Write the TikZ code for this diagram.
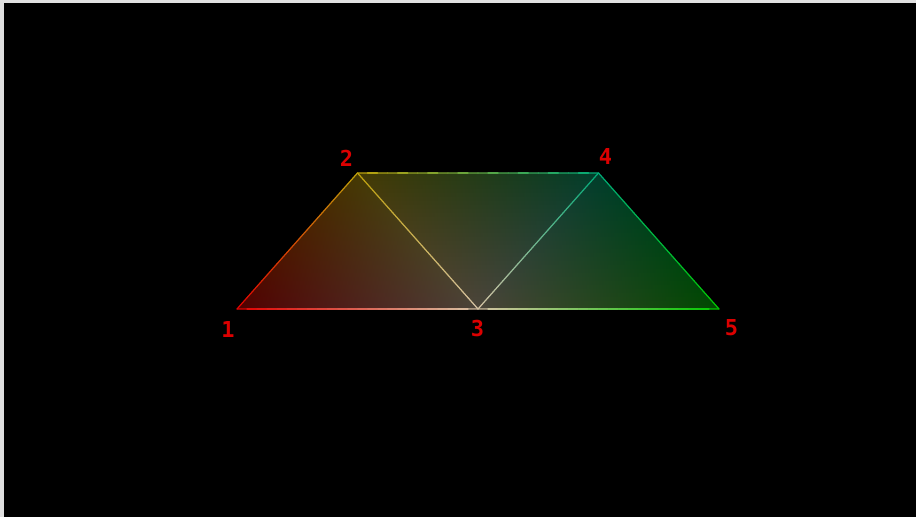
\documentclass[tikz,border=0pt]{standalone}
\usepackage{fontspec}
\newfontfamily\labelfont{DejaVu Sans Mono}
\usetikzlibrary{calc}
\usepackage{xcolor}
\definecolor{frameGray}{RGB}{224,224,224}
\definecolor{vertRed}{RGB}{225,0,0}
\definecolor{vertGold}{RGB}{190,160,10}
\definecolor{vertBeige}{RGB}{215,195,165}
\definecolor{vertTeal}{RGB}{0,170,120}
\definecolor{vertGreen}{RGB}{0,200,0}
\definecolor{labelRed}{RGB}{220,0,0}
\colorlet{faceRed}{vertRed!36!black}
\colorlet{faceGold}{vertGold!36!black}
\colorlet{faceBeige}{vertBeige!35!black}
\colorlet{faceTeal}{vertTeal!36!black}
\colorlet{faceGreen}{vertGreen!36!black}

% face a-b-c (b = apex), shaded in thin strips parallel to a--c
\newcommand\facestrips[6]{%
  \foreach \k in {1,...,34}{
    \pgfmathsetmacro\sa{(\k-1)/34}
    \pgfmathsetmacro\sb{min(\k/34+0.012,1)}
    \pgfmathsetmacro\sm{100*(\k-0.5)/34}
    \shade[left color=#5!\sm!#4, right color=#5!\sm!#6]
      ($(#1)!\sa!(#2)$) -- ($(#1)!\sb!(#2)$) -- ($(#3)!\sb!(#2)$) -- ($(#3)!\sa!(#2)$) -- cycle;
  }}

% edge with colour running from #3 to #4
\newcommand\gradedge[4]{%
  \foreach \k in {1,...,24}{
    \pgfmathsetmacro\ta{(\k-1)/24}
    \pgfmathsetmacro\tb{\k/24}
    \pgfmathsetmacro\p{100*(\k-0.5)/24}
    \draw[edge, #4!\p!#3] ($(#1)!\ta!(#2)$) -- ($(#1)!\tb!(#2)$);
  }}

\begin{document}
\begin{tikzpicture}[
   edge/.style={line width=0.7pt, line cap=round},
   lbl/.style={text=labelRed, inner sep=0pt,
               font=\fontsize{12.5}{15}\selectfont\labelfont\bfseries}]
  \fill[frameGray] (0,0) rectangle (18.32,10.34);
  \fill[black] (0.08,0) rectangle (18.32,10.28);
  \useasboundingbox (0,0) rectangle (18.32,10.34);

  \coordinate (v1) at (4.74,4.16);
  \coordinate (v2) at (7.15,6.88);
  \coordinate (v3) at (9.56,4.16);
  \coordinate (v4) at (11.97,6.88);
  \coordinate (v5) at (14.38,4.16);

  % faces
  \facestrips{v1}{v2}{v3}{faceRed}{faceGold}{faceBeige}
  \facestrips{v2}{v3}{v4}{faceGold}{faceBeige}{faceTeal}
  \facestrips{v3}{v4}{v5}{faceBeige}{faceTeal}{faceGreen}

  % edges
  \gradedge{v1}{v2}{vertRed}{vertGold}
  \gradedge{v2}{v4}{vertGold}{vertTeal}
  \gradedge{v4}{v5}{vertTeal}{vertGreen}
  \gradedge{v1}{v3}{vertRed}{vertBeige}
  \gradedge{v3}{v5}{vertBeige}{vertGreen}
  \gradedge{v2}{v3}{vertGold}{vertBeige}
  \gradedge{v3}{v4}{vertBeige}{vertTeal}

  % vertex numbers
  \node[lbl] (l1) at ($(v1)+(-0.18,-0.42)$) {1};
  \node[lbl] (l2) at ($(v2)+(-0.22,0.30)$) {2};
  \node[lbl] (l3) at ($(v3)+(-0.01,-0.39)$) {3};
  \node[lbl] (l4) at ($(v4)+(0.14,0.32)$) {4};
  \node[lbl] (l5) at ($(v5)+(0.25,-0.38)$) {5};
\end{tikzpicture}
\end{document}
